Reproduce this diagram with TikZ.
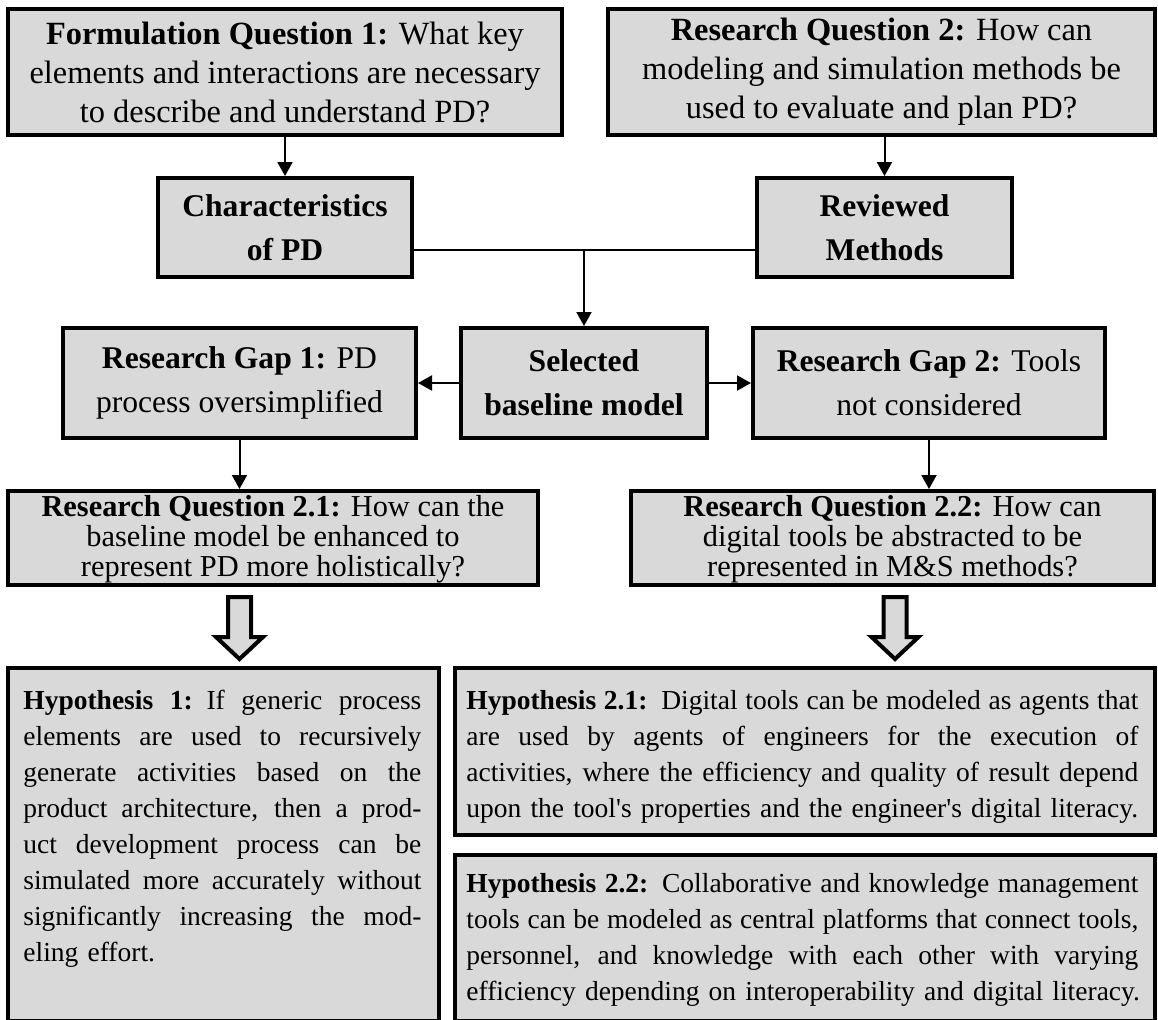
\documentclass[tikz,border=0pt]{standalone}
\usepackage{fontspec}
\setmainfont{Liberation Serif}
\usetikzlibrary{calc,arrows.meta}

\definecolor{boxgray}{RGB}{217,217,217}

% a fully justified line of fixed width
\newcommand{\jline}[1]{\hbox to\linewidth{\spaceskip=0.25em plus 1fil\relax #1}}

\tikzset{
  box/.style={draw=black, line width=2pt, fill=boxgray, inner sep=0pt,
    align=center, text=black},
  flow/.style={line width=1pt, -{Triangle[length=7pt,width=7.5pt]}},
  bigarrow/.style={draw=black, line width=2pt, fill=boxgray, line join=miter},
  topfont/.style={font=\fontsize{16.2pt}{19.5pt}\selectfont},
  midfont/.style={font=\fontsize{15.8pt}{22pt}\selectfont},
  rqfont/.style={font=\fontsize{15.2pt}{15pt}\selectfont},
  rqtext/.style={inner sep=0pt, align=center, rqfont},
  hypfont/.style={font=\fontsize{13.75pt}{18pt}\selectfont},
  hyptext/.style={anchor=north west, inner sep=0pt, align=left, hypfont},
}

\begin{document}
\begin{tikzpicture}[x=0.5pt,y=-0.5pt]
\useasboundingbox (0,0) rectangle (1158,1019);
\begin{scope}
\clip (0,0) rectangle (1158,1019);

% questions
\node[box, topfont, minimum width=277pt, minimum height=63pt] (FQ1) at (285,72)
  {\textbf{Formulation Question 1:} What key\\elements and interactions are necessary\\to describe and understand PD?};
\node[box, topfont, minimum width=273.5pt, minimum height=63pt] (RQ2) at (881.5,72)
  {\textbf{Research Question 2:} How can\\modeling and simulation methods be\\used to evaluate and plan PD?};

% review results
\node[box, midfont, minimum width=127pt, minimum height=49.5pt] (CHAR) at (285,227.5)
  {\textbf{Characteristics}\\\textbf{of PD}};
\node[box, midfont, minimum width=127.5pt, minimum height=49.5pt] (REV) at (884.5,227.5)
  {\textbf{Reviewed}\\\textbf{Methods}};

% baseline and gaps
\node[box, midfont, minimum width=123pt, minimum height=55pt] (SEL) at (584,383)
  {\textbf{Selected}\\\textbf{baseline model}};
\node[box, midfont, minimum width=176.5pt, minimum height=55pt] (GAP1) at (239.5,383)
  {\textbf{Research Gap 1:} PD\\process oversimplified};
\node[box, midfont, minimum width=176pt, minimum height=55pt] (GAP2) at (929,383)
  {\textbf{Research Gap 2:} Tools\\not considered};

% sub-questions
\node[box, minimum width=265pt, minimum height=47pt] (RQ21) at (273,538) {};
\node[box, minimum width=261.5pt, minimum height=47pt] (RQ22) at (892.5,538) {};
\node[rqtext] (RQ21T) at ($(RQ21.center)+(0,1)$)
  {\textbf{Research Question 2.1:} How can the\\baseline model be enhanced to\\represent PD more holistically?};
\node[rqtext] (RQ22T) at ($(RQ22.center)+(0,1)$)
  {\textbf{Research Question 2.2:} How can\\digital tools be abstracted to be\\represented in M\&S methods?};

% hypotheses
\node[box, minimum width=215.5pt, minimum height=176.5pt] (H1) at (223.5,844.5) {};
\node[box, minimum width=350pt, minimum height=83.5pt] (H21) at (805,751.5) {};
\node[box, minimum width=350pt, minimum height=83pt] (H22) at (805,938) {};

\node[hyptext, text width=199pt] (H1T) at ($(H1.north west)+(17,24)$) {%
  \jline{\textbf{Hypothesis 1:} If generic process}
  \jline{elements are used to recursively}
  \jline{generate activities based on the}
  \jline{product architecture, then a prod-}
  \jline{uct development process can be}
  \jline{simulated more accurately without}
  \jline{significantly increasing the mod-}
  \hbox{eling effort.}};

\node[hyptext, text width=336pt] (H21T) at ($(H21.north west)+(13,24)$) {%
  \jline{\textbf{Hypothesis 2.1:} Digital tools can be modeled as agents that}
  \jline{are used by agents of engineers for the execution of}
  \jline{activities, where the efficiency and quality of result depend}
  \hbox{upon the tool\textquotesingle s properties and the engineer\textquotesingle s digital literacy.}};

\node[hyptext, text width=336pt] (H22T) at ($(H22.north west)+(13,20)$) {%
  \jline{\textbf{Hypothesis 2.2:} Collaborative and knowledge management}
  \jline{tools can be modeled as central platforms that connect tools,}
  \jline{personnel, and knowledge with each other with varying}
  \hbox{efficiency depending on interoperability and digital literacy.}};
\end{scope}

% connectors
\draw[flow] (FQ1.south -| CHAR.north) -- (CHAR.north);
\draw[flow] (RQ2.south -| REV.north) -- (REV.north);
\coordinate (J) at (SEL.north |- 0,250);
\draw[line width=1pt] (CHAR.east |- J) -- (REV.west |- J);
\draw[flow] (J) -- (SEL.north);
\draw[flow] (SEL.west) -- (GAP1.east);
\draw[flow] (SEL.east) -- (GAP2.west);
\draw[flow] (GAP1.south) -- (GAP1.south |- RQ21.north);
\draw[flow] (GAP2.south) -- (GAP2.south |- RQ22.north);

% hollow block arrows towards the hypotheses
\coordinate (A1) at (239.5,597);
\coordinate (A2) at (895,597);
\foreach \a in {A1,A2}{
  \draw[bigarrow] ($(\a)+(-11.5,0)$) -- ($(\a)+(11.5,0)$) -- ($(\a)+(11.5,40)$)
    -- ($(\a)+(23.5,40)$) -- ($(\a)+(0,62)$) -- ($(\a)+(-23.5,40)$)
    -- ($(\a)+(-11.5,40)$) -- cycle;
}
\end{tikzpicture}
\end{document}
